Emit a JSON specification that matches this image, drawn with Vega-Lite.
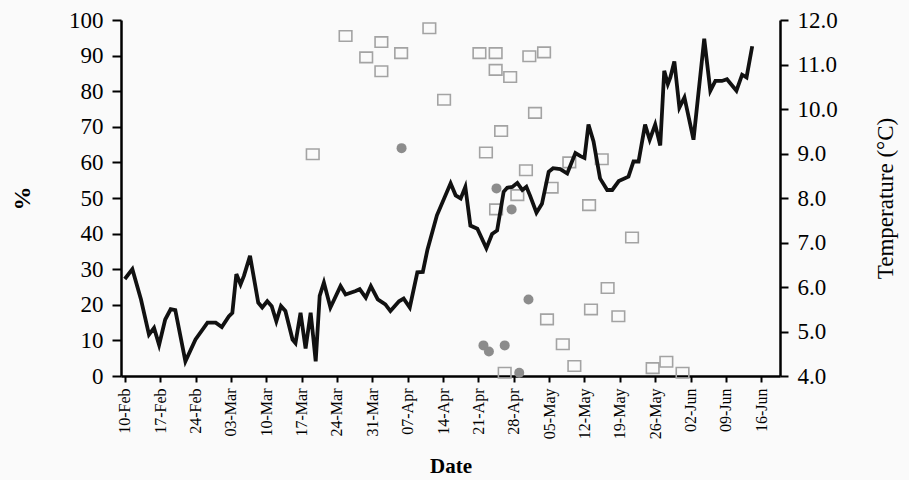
{
  "$schema": "https://vega.github.io/schema/vega-lite/v6.json",
  "width": 659,
  "height": 356,
  "autosize": {"type": "none"},
  "padding": {"left": 121, "top": 20, "right": 129, "bottom": 104},
  "background": "#fafafa",
  "config": {
    "view": {"stroke": null},
    "font": "Liberation Serif",
    "axis": {"grid": false, "domainColor": "#000", "tickColor": "#000", "labelColor": "#000", "titleColor": "#000", "domainWidth": 2.5, "tickWidth": 2, "labelFont": "Liberation Serif", "titleFont": "Liberation Serif", "labelOverlap": false},
    "axisX": {"labelOverlap": false}
  },
  "datasets": {
    "temp": [
      {"date": "2005-02-10", "temp": 6.18},
      {"date": "2005-02-11T12:00Z", "temp": 6.40},
      {"date": "2005-02-13T05:00Z", "temp": 5.72},
      {"date": "2005-02-14T19:00Z", "temp": 4.93},
      {"date": "2005-02-15T19:00Z", "temp": 5.08},
      {"date": "2005-02-16T19:00Z", "temp": 4.70},
      {"date": "2005-02-18", "temp": 5.27},
      {"date": "2005-02-19T02:00Z", "temp": 5.50},
      {"date": "2005-02-20", "temp": 5.48},
      {"date": "2005-02-22", "temp": 4.33},
      {"date": "2005-02-24", "temp": 4.82},
      {"date": "2005-02-26T09:00Z", "temp": 5.20},
      {"date": "2005-02-28", "temp": 5.20},
      {"date": "2005-03-01T05:00Z", "temp": 5.10},
      {"date": "2005-03-02T14:00Z", "temp": 5.34},
      {"date": "2005-03-03T07:00Z", "temp": 5.42},
      {"date": "2005-03-04T02:00Z", "temp": 6.29},
      {"date": "2005-03-04T22:00Z", "temp": 6.06},
      {"date": "2005-03-05T14:00Z", "temp": 6.25},
      {"date": "2005-03-06T19:00Z", "temp": 6.70},
      {"date": "2005-03-08T10:00Z", "temp": 5.65},
      {"date": "2005-03-09T05:00Z", "temp": 5.54},
      {"date": "2005-03-10T05:00Z", "temp": 5.68},
      {"date": "2005-03-11T02:00Z", "temp": 5.57},
      {"date": "2005-03-12", "temp": 5.23},
      {"date": "2005-03-12T22:00Z", "temp": 5.57},
      {"date": "2005-03-13T19:00Z", "temp": 5.46},
      {"date": "2005-03-15T05:00Z", "temp": 4.82},
      {"date": "2005-03-15T19:00Z", "temp": 4.74},
      {"date": "2005-03-16T19:00Z", "temp": 5.42},
      {"date": "2005-03-17T19:00Z", "temp": 4.62},
      {"date": "2005-03-18T19:00Z", "temp": 5.42},
      {"date": "2005-03-19T07:00Z", "temp": 4.89},
      {"date": "2005-03-19T19:00Z", "temp": 4.33},
      {"date": "2005-03-20T14:00Z", "temp": 5.80},
      {"date": "2005-03-21T10:00Z", "temp": 6.10},
      {"date": "2005-03-22T17:00Z", "temp": 5.54},
      {"date": "2005-03-24T17:00Z", "temp": 6.02},
      {"date": "2005-03-25T17:00Z", "temp": 5.83},
      {"date": "2005-03-27T17:00Z", "temp": 5.91},
      {"date": "2005-03-28T12:00Z", "temp": 5.95},
      {"date": "2005-03-29T17:00Z", "temp": 5.76},
      {"date": "2005-03-30T17:00Z", "temp": 6.02},
      {"date": "2005-04-01T02:00Z", "temp": 5.72},
      {"date": "2005-04-02T14:00Z", "temp": 5.61},
      {"date": "2005-04-03T14:00Z", "temp": 5.46},
      {"date": "2005-04-05T07:00Z", "temp": 5.68},
      {"date": "2005-04-06T05:00Z", "temp": 5.74},
      {"date": "2005-04-07T10:00Z", "temp": 5.54},
      {"date": "2005-04-08T22:00Z", "temp": 6.33},
      {"date": "2005-04-10", "temp": 6.34},
      {"date": "2005-04-10T22:00Z", "temp": 6.84},
      {"date": "2005-04-12T19:00Z", "temp": 7.61},
      {"date": "2005-04-15T12:00Z", "temp": 8.33},
      {"date": "2005-04-16T12:00Z", "temp": 8.06},
      {"date": "2005-04-17T12:00Z", "temp": 7.99},
      {"date": "2005-04-18T10:00Z", "temp": 8.25},
      {"date": "2005-04-19T10:00Z", "temp": 7.38},
      {"date": "2005-04-20T19:00Z", "temp": 7.31},
      {"date": "2005-04-22T14:00Z", "temp": 6.87},
      {"date": "2005-04-23T17:00Z", "temp": 7.19},
      {"date": "2005-04-24T17:00Z", "temp": 7.27},
      {"date": "2005-04-26", "temp": 8.14},
      {"date": "2005-04-26T17:00Z", "temp": 8.23},
      {"date": "2005-04-27T17:00Z", "temp": 8.25},
      {"date": "2005-04-28T17:00Z", "temp": 8.34},
      {"date": "2005-04-29T17:00Z", "temp": 8.18},
      {"date": "2005-04-30T12:00Z", "temp": 8.25},
      {"date": "2005-05-01T05:00Z", "temp": 8.06},
      {"date": "2005-05-02T12:00Z", "temp": 7.67},
      {"date": "2005-05-03T14:00Z", "temp": 7.87},
      {"date": "2005-05-04T22:00Z", "temp": 8.59},
      {"date": "2005-05-05T19:00Z", "temp": 8.67},
      {"date": "2005-05-07T05:00Z", "temp": 8.65},
      {"date": "2005-05-08T14:00Z", "temp": 8.55},
      {"date": "2005-05-10T05:00Z", "temp": 9.01},
      {"date": "2005-05-11T05:00Z", "temp": 8.94},
      {"date": "2005-05-12", "temp": 8.90},
      {"date": "2005-05-12T19:00Z", "temp": 9.65},
      {"date": "2005-05-13T19:00Z", "temp": 9.27},
      {"date": "2005-05-15T02:00Z", "temp": 8.44},
      {"date": "2005-05-16T12:00Z", "temp": 8.18},
      {"date": "2005-05-17T12:00Z", "temp": 8.18},
      {"date": "2005-05-18T19:00Z", "temp": 8.38},
      {"date": "2005-05-20T17:00Z", "temp": 8.48},
      {"date": "2005-05-21T17:00Z", "temp": 8.82},
      {"date": "2005-05-22T17:00Z", "temp": 8.82},
      {"date": "2005-05-24", "temp": 9.65},
      {"date": "2005-05-24T22:00Z", "temp": 9.31},
      {"date": "2005-05-26", "temp": 9.65},
      {"date": "2005-05-27", "temp": 9.18},
      {"date": "2005-05-27T19:00Z", "temp": 10.86},
      {"date": "2005-05-28T12:00Z", "temp": 10.56},
      {"date": "2005-05-29", "temp": 10.71},
      {"date": "2005-05-29T19:00Z", "temp": 11.07},
      {"date": "2005-05-30T19:00Z", "temp": 10.03},
      {"date": "2005-05-31T19:00Z", "temp": 10.26},
      {"date": "2005-06-02T14:00Z", "temp": 9.31},
      {"date": "2005-06-04T17:00Z", "temp": 11.58},
      {"date": "2005-06-05T22:00Z", "temp": 10.41},
      {"date": "2005-06-06T22:00Z", "temp": 10.63},
      {"date": "2005-06-08T05:00Z", "temp": 10.63},
      {"date": "2005-06-09T05:00Z", "temp": 10.67},
      {"date": "2005-06-11T02:00Z", "temp": 10.41},
      {"date": "2005-06-12T05:00Z", "temp": 10.77},
      {"date": "2005-06-13T02:00Z", "temp": 10.71},
      {"date": "2005-06-14T05:00Z", "temp": 11.41}
    ],
    "pts": [
      {"date": "2005-03-19T05:00Z", "pct": 62.3, "type": "sq"},
      {"date": "2005-03-25T17:00Z", "pct": 95.5, "type": "sq"},
      {"date": "2005-03-29T19:00Z", "pct": 89.5, "type": "sq"},
      {"date": "2005-04-01T19:00Z", "pct": 93.8, "type": "sq"},
      {"date": "2005-04-01T19:00Z", "pct": 85.6, "type": "sq"},
      {"date": "2005-04-05T17:00Z", "pct": 90.7, "type": "sq"},
      {"date": "2005-04-11T07:00Z", "pct": 97.7, "type": "sq"},
      {"date": "2005-04-14T05:00Z", "pct": 77.6, "type": "sq"},
      {"date": "2005-04-21T05:00Z", "pct": 90.7, "type": "sq"},
      {"date": "2005-04-24T10:00Z", "pct": 90.7, "type": "sq"},
      {"date": "2005-04-24T10:00Z", "pct": 86.0, "type": "sq"},
      {"date": "2005-04-27T07:00Z", "pct": 84.0, "type": "sq"},
      {"date": "2005-05-01T02:00Z", "pct": 89.8, "type": "sq"},
      {"date": "2005-05-04", "pct": 90.9, "type": "sq"},
      {"date": "2005-05-02T05:00Z", "pct": 73.9, "type": "sq"},
      {"date": "2005-04-25T12:00Z", "pct": 68.8, "type": "sq"},
      {"date": "2005-04-22T12:00Z", "pct": 62.8, "type": "sq"},
      {"date": "2005-04-30T10:00Z", "pct": 57.8, "type": "sq"},
      {"date": "2005-05-09", "pct": 60.0, "type": "sq"},
      {"date": "2005-05-15T10:00Z", "pct": 60.9, "type": "sq"},
      {"date": "2005-04-28T17:00Z", "pct": 50.8, "type": "sq"},
      {"date": "2005-05-05T12:00Z", "pct": 52.9, "type": "sq"},
      {"date": "2005-05-12T22:00Z", "pct": 48.0, "type": "sq"},
      {"date": "2005-04-24T12:00Z", "pct": 46.8, "type": "sq"},
      {"date": "2005-05-21T10:00Z", "pct": 38.9, "type": "sq"},
      {"date": "2005-05-16T14:00Z", "pct": 24.7, "type": "sq"},
      {"date": "2005-05-13T07:00Z", "pct": 18.7, "type": "sq"},
      {"date": "2005-05-18T17:00Z", "pct": 16.8, "type": "sq"},
      {"date": "2005-05-04T14:00Z", "pct": 15.9, "type": "sq"},
      {"date": "2005-05-07T17:00Z", "pct": 8.9, "type": "sq"},
      {"date": "2005-05-10", "pct": 2.8, "type": "sq"},
      {"date": "2005-04-26T05:00Z", "pct": 0.9, "type": "sq"},
      {"date": "2005-05-25T12:00Z", "pct": 2.2, "type": "sq"},
      {"date": "2005-05-28T05:00Z", "pct": 4.0, "type": "sq"},
      {"date": "2005-05-31T10:00Z", "pct": 0.9, "type": "sq"},
      {"date": "2005-04-05T19:00Z", "pct": 64.0, "type": "ci"},
      {"date": "2005-04-24T14:00Z", "pct": 52.7, "type": "ci"},
      {"date": "2005-04-27T14:00Z", "pct": 46.8, "type": "ci"},
      {"date": "2005-04-30T22:00Z", "pct": 21.5, "type": "ci"},
      {"date": "2005-04-22", "pct": 8.6, "type": "ci"},
      {"date": "2005-04-23T02:00Z", "pct": 6.9, "type": "ci"},
      {"date": "2005-04-26T05:00Z", "pct": 8.6, "type": "ci"},
      {"date": "2005-04-29T02:00Z", "pct": 0.9, "type": "ci"}
    ]
  },
  "encoding": {
    "x": {
      "field": "date", "type": "temporal",
      "scale": {"type": "utc", "domain": [1107928800000, 1119200400000]},
      "axis": {
        "title": "Date", "format": "%d-%b", "labelAngle": -90, "labelFontSize": 16, "labelPadding": 6, "tickSize": 6, "labelOverlap": false, "labelFlush": false,
        "titleFontSize": 21, "titleFontWeight": "bold", "titleBaseline": "middle", "titleY": 90,
        "values": [1107993600000, 1108598400000, 1109203200000, 1109808000000, 1110412800000, 1111017600000, 1111622400000, 1112227200000, 1112832000000, 1113436800000, 1114041600000, 1114646400000, 1115251200000, 1115856000000, 1116460800000, 1117065600000, 1117670400000, 1118275200000, 1118880000000]
      }
    }
  },
  "layer": [
    {
      "data": {"name": "pts"},
      "encoding": {
        "y": {
          "field": "pct", "type": "quantitative",
          "scale": {"domain": [0, 100], "nice": false},
          "axis": {
            "orient": "left", "title": "%", "values": [0, 10, 20, 30, 40, 50, 60, 70, 80, 90, 100],
            "labelFontSize": 23, "labelPadding": 9, "tickSize": 9,
            "titleFontSize": 24, "titleFontWeight": "bold", "titleAngle": 270, "titleBaseline": "middle", "titleAlign": "center", "titleX": -99, "titleY": 178
          }
        }
      },
      "layer": [
        {
          "transform": [{"filter": "datum.type === 'sq'"}],
          "mark": {"type": "point", "shape": "M-1.2,-1H1.2V1H-1.2Z", "filled": false, "stroke": "#a3a3a3", "strokeWidth": 1.6, "size": 110, "opacity": 1, "clip": false}
        },
        {
          "transform": [{"filter": "datum.type === 'ci'"}],
          "mark": {"type": "point", "shape": "circle", "filled": true, "fill": "#8c8c8c", "size": 100, "opacity": 1}
        }
      ]
    },
    {
      "data": {"name": "temp"},
      "mark": {"type": "line", "color": "#111111", "strokeWidth": 3.8},
      "encoding": {
        "y": {
          "field": "temp", "type": "quantitative",
          "scale": {"domain": [4, 12], "nice": false, "zero": false},
          "axis": {
            "orient": "right", "title": "Temperature (°C)", "values": [4, 5, 6, 7, 8, 9, 10, 11, 12], "format": ".1f",
            "labelFontSize": 23, "labelPadding": 9, "tickSize": 8,
            "titleFontSize": 23, "titleFontWeight": "normal", "titleAngle": 270, "titleBaseline": "middle", "titleAlign": "center", "titleX": 105, "titleY": 178
          }
        }
      }
    }
  ],
  "resolve": {"scale": {"y": "independent"}}
}
